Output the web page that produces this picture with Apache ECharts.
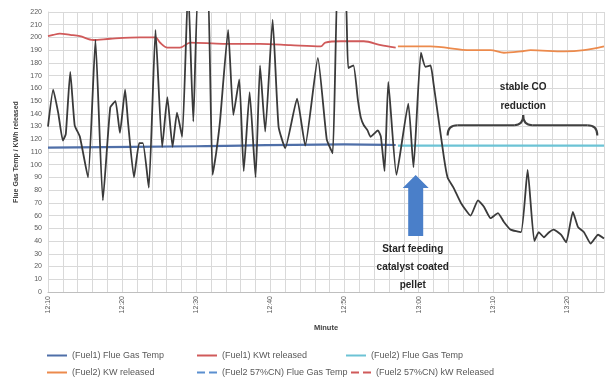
<!DOCTYPE html>
<html>
<head>
<meta charset="utf-8">
<script src="https://cdn.jsdelivr.net/npm/echarts@6/dist/echarts.min.js"></script>
<style>
  html, body { margin: 0; padding: 0; background: #fff; }
  #chart { width: 608px; height: 384px; }
</style>
</head>
<body>
<div id="chart"></div>
<script>
// x axis is in minutes from the start of the run, tick labels are clock times
const xTickMinutes = [0, 10, 20, 30, 40, 50, 60, 70]
const xTickLabels = ['12:10', '12:20', '12:30', '12:40', '12:50', '13:00', '13:10', '13:20']

// black trace (CO) at its turning points
const coMinutes = [0.0, 0.7, 1.4, 2.0, 2.4, 3.0, 3.6, 4.3, 5.4, 6.4, 7.4, 8.4, 9.1, 9.7, 10.4, 10.8,
  11.6, 12.3, 12.8, 13.6, 14.5, 15.4, 16.1, 16.8, 17.4, 18.1, 18.9, 19.6, 20.3, 21.5, 22.2, 22.7,
  23.2, 24.3, 25.0, 25.8, 26.4, 27.2, 28.0, 28.6, 29.3, 30.3, 31.1, 32.0, 33.6, 34.7, 36.4, 37.6,
  38.4, 39.1, 40.1, 40.5, 41.2, 41.8, 42.2, 42.6, 43.1, 43.5, 44.5, 44.9, 45.4, 45.9, 47.0, 48.6,
  49.3, 50.3, 50.9, 51.6, 52.0, 53.4, 53.9, 54.7, 55.7, 57.0, 58.0, 58.8, 59.7, 60.7, 61.5, 62.4,
  63.8, 64.7, 65.6, 66.2, 66.9, 67.6, 68.2, 69.2, 69.9, 70.8, 71.5, 72.3, 73.2, 74.2, 75.0]
const coValues = [130, 159, 140, 119, 124, 173, 131, 122, 90, 198, 72, 145, 150, 125, 159, 133,
  90, 117, 117, 82, 206, 114, 153, 114, 141, 122, 240, 134, 240, 240, 92, 110,
  134, 206, 139, 167, 95, 157, 90, 178, 126, 214, 130, 113, 152, 115, 184, 120,
  109, 240, 240, 176, 178, 151, 137, 131, 127, 122, 127, 122, 95, 165, 92, 148,
  98, 188, 177, 178, 164, 106, 90, 82, 70, 60, 72, 67, 58, 62, 55, 49,
  47, 96, 40, 47, 43, 47, 49, 45, 39, 63, 51, 47, 38, 45, 42]

const fuel1KwMinutes = [0, 0.7, 1.6, 3.0, 4.3, 6.1, 8.4, 12.4, 14.5, 15.1, 16.1, 17.8, 19.2, 23.6, 28.6, 32.7, 36.8, 37.4, 39.5, 42.6, 44.9, 46.9]
const fuel1KwValues = [201, 202, 203, 202, 201, 198, 199, 200, 200, 196, 192, 192, 196, 195, 195, 194, 193, 196, 197, 197, 194, 192]

const fuel2KwMinutes = [47.2, 51.6, 57.0, 59.7, 61.5, 63.8, 65.1, 69.6, 72.3, 75.0]
const fuel2KwValues = [193, 193, 190, 190, 188, 189, 190, 189, 190, 193]

const fuel1FlueMinutes = [0, 20, 40, 46.9]
const fuel1FlueValues = [113.5, 114.5, 116, 115.5]

const fuel2FlueMinutes = [47.2, 60, 75]
const fuel2FlueValues = [115, 115, 115]

const zip = (xs, ys) => xs.map((x, i) => [x, ys[i]])

const FONT = 'Liberation Sans'
const legendText = { fontSize: 9, color: '#595959', fontFamily: FONT }

function legendItem(name, left, top) {
  return {
    data: [name], left, top, padding: 0, itemWidth: 20, itemHeight: 8, itemGap: 0,
    itemStyle: { opacity: 0 },
    textStyle: legendText, selectedMode: false,
  }
}

const option = {
  animation: false,
  grid: { left: 48, right: 4, top: 12, bottom: 92 },
  legend: [
    legendItem('(Fuel1) Flue Gas Temp', 46, 351),
    legendItem('(Fuel1) KWt released', 196, 351),
    legendItem('(Fuel2) Flue Gas Temp', 345, 351),
    legendItem('(Fuel2) KW released', 46, 368),
    legendItem('(Fuel2 57%CN) Flue Gas Temp', 196, 368),
    legendItem('(Fuel2 57%CN) kW Released', 350, 368),
  ],
  xAxis: {
    type: 'value', min: 0, max: 75, interval: 2,
    name: 'Minute', nameLocation: 'middle', nameGap: 32,
    nameTextStyle: { fontSize: 7.5, color: '#404040', fontWeight: 'bold', fontFamily: FONT },
    axisLine: { show: true, lineStyle: { color: '#bfbfbf' } },
    axisTick: { show: false },
    axisLabel: {
      rotate: 90, fontSize: 7, color: '#595959', fontFamily: FONT, margin: 4, showMaxLabel: false,
      formatter: (v) => {
        const i = xTickMinutes.indexOf(v)
        return i >= 0 ? xTickLabels[i] : ''
      },
    },
    splitLine: { show: true, lineStyle: { color: '#d9d9d9', width: 1 } },
  },
  yAxis: {
    type: 'value', min: 0, max: 220, interval: 10,
    name: 'Flue Gas Temp / KWh released', nameLocation: 'middle', nameGap: 26,
    nameTextStyle: { fontSize: 7, color: '#404040', fontWeight: 'bold', fontFamily: FONT },
    axisLine: { show: true, lineStyle: { color: '#d9d9d9' } },
    axisTick: { show: false },
    axisLabel: { fontSize: 7, color: '#595959', fontFamily: FONT, margin: 6 },
    splitLine: { show: true, lineStyle: { color: '#d9d9d9', width: 1 } },
  },
  series: [
    {
      name: '(Fuel1) Flue Gas Temp', type: 'line', symbol: 'none', smooth: 0.3,
      lineStyle: { color: '#4f6fa8', width: 2.2 }, itemStyle: { color: '#4f6fa8' },
      data: zip(fuel1FlueMinutes, fuel1FlueValues),
    },
    {
      name: '(Fuel1) KWt released', type: 'line', symbol: 'none', smooth: 0.3,
      lineStyle: { color: '#d05a5a', width: 1.8 }, itemStyle: { color: '#d05a5a' },
      data: zip(fuel1KwMinutes, fuel1KwValues),
    },
    {
      name: '(Fuel2) Flue Gas Temp', type: 'line', symbol: 'none', smooth: 0.3,
      lineStyle: { color: '#6cc3d5', width: 2.2 }, itemStyle: { color: '#6cc3d5' },
      data: zip(fuel2FlueMinutes, fuel2FlueValues),
    },
    {
      name: '(Fuel2) KW released', type: 'line', symbol: 'none', smooth: 0.3,
      lineStyle: { color: '#ec8a4c', width: 1.8 }, itemStyle: { color: '#ec8a4c' },
      data: zip(fuel2KwMinutes, fuel2KwValues),
    },
    {
      name: '(Fuel2 57%CN) Flue Gas Temp', type: 'line', symbol: 'none',
      lineStyle: { color: '#5b8fd0', width: 1.5, type: 'dashed' }, itemStyle: { color: '#5b8fd0' },
      data: [],
    },
    {
      name: '(Fuel2 57%CN) kW Released', type: 'line', symbol: 'none',
      lineStyle: { color: '#d05a5a', width: 1.5, type: 'dashed' }, itemStyle: { color: '#d05a5a' },
      data: [],
    },
    {
      name: 'CO', type: 'line', symbol: 'none', smooth: 0.15, clip: true, z: 5,
      lineStyle: { color: '#3a3a3a', width: 1.8 }, itemStyle: { color: '#3a3a3a' },
      data: zip(coMinutes, coValues),
    },
  ],
}

const chart = echarts.init(document.getElementById('chart'), null, { renderer: 'canvas' })
chart.setOption(option)

// annotations are placed from data coordinates
const px = (m, v) => chart.convertToPixel({ gridIndex: 0 }, [m, v])

const tip = px(49.6, 92)
const headBase = px(49.6, 81.7)
const tail = px(49.6, 44)
const arrowPts = [
  [tip[0], tip[1]],
  [tip[0] + 13, headBase[1]],
  [tip[0] + 7.5, headBase[1]],
  [tip[0] + 7.5, tail[1]],
  [tip[0] - 7.5, tail[1]],
  [tip[0] - 7.5, headBase[1]],
  [tip[0] - 13, headBase[1]],
]

const bL = px(53.9, 123)
const bArm = px(64.1, 131)
const bPeak = px(64.1, 139)
const bR = px(74.1, 123)
const xc = bPeak[0]
const yA = bArm[1]
const braceStyle = { stroke: '#404040', lineWidth: 2, fill: 'none' }
const braceParts = [
  { type: 'bezierCurve', shape: { x1: bL[0], y1: bL[1], cpx1: bL[0], cpy1: yA, x2: bL[0] + 10, y2: yA } },
  { type: 'line', shape: { x1: bL[0] + 10, y1: yA, x2: xc - 9, y2: yA } },
  { type: 'bezierCurve', shape: { x1: xc - 9, y1: yA, cpx1: xc, cpy1: yA, x2: xc, y2: bPeak[1] } },
  { type: 'bezierCurve', shape: { x1: xc, y1: bPeak[1], cpx1: xc, cpy1: yA, x2: xc + 9, y2: yA } },
  { type: 'line', shape: { x1: xc + 9, y1: yA, x2: bR[0] - 10, y2: yA } },
  { type: 'bezierCurve', shape: { x1: bR[0] - 10, y1: yA, cpx1: bR[0], cpy1: yA, x2: bR[0], y2: bR[1] } },
].map((p) => ({ ...p, z: 100, style: braceStyle }))

const feedText = px(49.2, 41)
const stableText = px(64.1, 168)

chart.setOption({
  graphic: [
    {
      type: 'polygon', z: 100,
      shape: { points: arrowPts },
      style: { fill: '#4a7fc9' },
    },
    ...braceParts,
    {
      type: 'text', z: 100, x: feedText[0], y: feedText[1],
      style: {
        text: 'Start feeding\ncatalyst coated\npellet', align: 'center', verticalAlign: 'top',
        font: `bold 10px "${FONT}"`, lineHeight: 18, fill: '#262626',
      },
    },
    {
      type: 'text', z: 100, x: stableText[0], y: stableText[1],
      style: {
        text: 'stable CO\nreduction', align: 'center', verticalAlign: 'top',
        font: `bold 10px "${FONT}"`, lineHeight: 19, fill: '#262626',
      },
    },
  ],
})
</script>
</body>
</html>
